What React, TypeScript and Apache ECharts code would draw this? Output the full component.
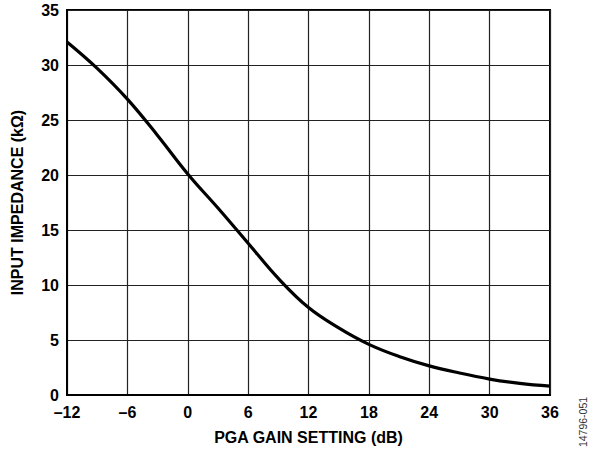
import React, { useEffect, useRef } from "react";
import * as echarts from "echarts";

const gainDb = [-12, -9, -6, -3, 0, 3, 6, 9, 12, 15, 18, 21, 24, 27, 30, 33, 36];
const impedanceKOhm = [32.1, 29.7, 26.9, 23.6, 20.1, 17.0, 13.8, 10.6, 7.95, 6.1, 4.6, 3.5, 2.65, 2.0, 1.45, 1.05, 0.8];

const xAxisName = "PGA GAIN SETTING (dB)";
const yAxisName = "INPUT IMPEDANCE (kΩ)";
const figureId = "14796-051";

export default function App() {
  const ref = useRef<HTMLDivElement>(null);
  useEffect(() => {
    if (!ref.current) return;
    const chart = echarts.init(ref.current, null, { renderer: "svg" });
    const font = "'Liberation Sans', Arial, sans-serif";
    chart.setOption({
      animation: false,
      backgroundColor: "#fff",
      grid: {
        left: 67,
        right: 41,
        top: 10,
        bottom: 57,
        show: true,
        borderColor: "#000",
        borderWidth: 2,
        backgroundColor: "transparent",
      },
      xAxis: {
        type: "value",
        min: -12,
        max: 36,
        interval: 6,
        name: xAxisName,
        nameLocation: "middle",
        nameGap: 34,
        nameTextStyle: { fontFamily: font, fontWeight: "bold", fontSize: 16, color: "#000" },
        axisLine: { show: true, onZero: false, lineStyle: { color: "#000", width: 2 } },
        axisTick: { show: false },
        axisLabel: {
          margin: 9,
          fontFamily: font,
          fontWeight: "bold",
          fontSize: 16,
          color: "#000",
          formatter: (v: number) => String(v).replace("-", "\u2013"),
        },
        splitLine: { show: true, lineStyle: { color: "#222", width: 1.2 } },
      },
      yAxis: {
        type: "value",
        min: 0,
        max: 35,
        interval: 5,
        name: yAxisName,
        nameLocation: "middle",
        nameGap: 42,
        nameTextStyle: { fontFamily: font, fontWeight: "bold", fontSize: 16, color: "#000" },
        axisLine: { show: true, onZero: false, lineStyle: { color: "#000", width: 2 } },
        axisTick: { show: false },
        axisLabel: {
          margin: 8,
          fontFamily: font,
          fontWeight: "bold",
          fontSize: 16,
          color: "#000",
        },
        splitLine: { show: true, lineStyle: { color: "#222", width: 1.2 } },
      },
      series: [
        {
          type: "line",
          data: gainDb.map((g, i) => [g, impedanceKOhm[i]]),
          smooth: 0.4,
          showSymbol: false,
          lineStyle: { color: "#000", width: 3.2 },
        },
      ],
      graphic: [
        {
          type: "text",
          x: 583,
          y: 422,
          rotation: Math.PI / 2,
          style: {
            text: figureId,
            fontFamily: font,
            fontSize: 10.5,
            fill: "#333",
            align: "center",
            verticalAlign: "middle",
          },
        },
      ],
    });
    return () => chart.dispose();
  }, []);
  return <div ref={ref} style={{ width: 591, height: 452, position: "absolute", left: 0, top: 0 }} />;
}
